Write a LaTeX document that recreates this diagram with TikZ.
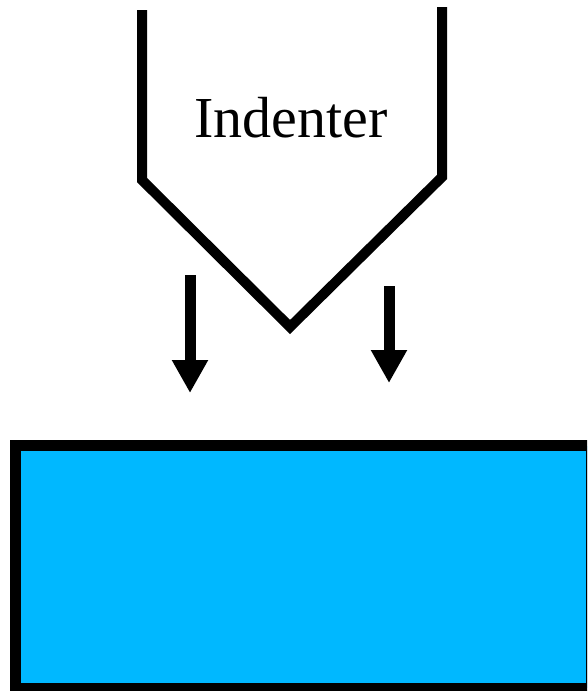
\documentclass[tikz,border=0pt]{standalone}
\usepackage{fontspec}
\setmainfont{Liberation Serif}
\usetikzlibrary{arrows.meta}
\definecolor{specimen}{RGB}{0,184,255}
\tikzset{
  thick line/.style={line width=10pt, black},
  push arrow/.style={line width=11pt, black, -{Triangle[length=33pt,width=34pt]}},
  specimen box/.style={line width=11pt, draw=black, fill=specimen},
}
\begin{document}
\begin{tikzpicture}[x=1pt,y=-1pt]
  \useasboundingbox (0,0) rectangle (587,691);
  \clip (0,0) rectangle (587,691);

  % indenter outline
  \coordinate (lt) at (142,10);
  \coordinate (lb) at (142,180);
  \coordinate (tip) at (290,327);
  \coordinate (rb) at (442,177);
  \coordinate (rt) at (442,7);
  \draw[thick line, line join=miter] (lt) -- (lb) -- (tip) -- (rb) -- (rt);
  \node[font=\fontsize{58pt}{64pt}\selectfont, anchor=base] (label) at (291,137) {Indenter};

  % loading arrows
  \coordinate (a1s) at (190,275);
  \coordinate (a1e) at (190,393);
  \coordinate (a2s) at (389,286);
  \coordinate (a2e) at (389,383);
  \draw[push arrow] (a1s) -- (a1e);
  \draw[push arrow] (a2s) -- (a2e);

  % specimen block
  \coordinate (bl) at (15.5,688);
  \coordinate (tr) at (591,445.5);
  \draw[specimen box] (bl) rectangle (tr);
\end{tikzpicture}
\end{document}
